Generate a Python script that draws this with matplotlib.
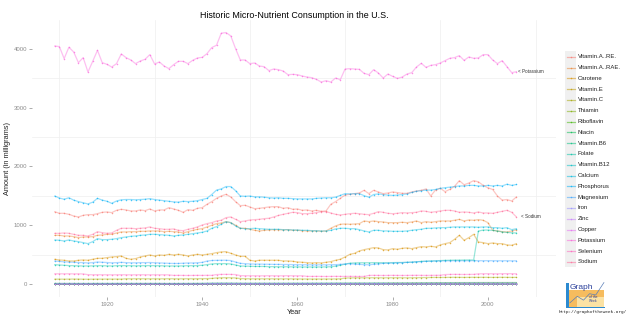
import numpy as np
import matplotlib
matplotlib.use("Agg")
from matplotlib import pyplot as plt
from matplotlib.lines import Line2D
from matplotlib.patches import Rectangle

plt.rcParams['font.family'] = ['Liberation Sans', 'DejaVu Sans']

years = list(range(1909, 2007))

labels = ["Vitamin.A..RE.", "Vitamin.A..RAE.", "Carotene", "Vitamin.E", "Vitamin.C",
          "Thiamin", "Riboflavin", "Niacin", "Vitamin.B6", "Folate", "Vitamin.B12",
          "Calcium", "Phosphorus", "Magnesium", "Iron", "Zinc", "Copper",
          "Potassium", "Selenium", "Sodium"]

# one row per decade, first row is 1909 alone
vit_a_re = [1234,
    1206, 1206, 1189, 1161, 1144, 1172, 1184, 1184, 1200, 1223,
    1229, 1218, 1257, 1274, 1263, 1246, 1246, 1263, 1251, 1280,
    1246, 1263, 1263, 1302, 1280, 1257, 1223, 1268, 1257, 1291,
    1302, 1359, 1404, 1460, 1500, 1528, 1483, 1404, 1336, 1342,
    1314, 1285, 1291, 1302, 1314, 1319, 1319, 1291, 1302, 1274,
    1280, 1257, 1263, 1246, 1257, 1240, 1246, 1359, 1404, 1460,
    1517, 1528, 1540, 1551, 1596, 1540, 1596, 1568, 1540, 1551,
    1568, 1557, 1545, 1545, 1568, 1585, 1596, 1619, 1500, 1602,
    1630, 1573, 1613, 1664, 1760, 1690, 1720, 1760, 1740, 1680,
    1640, 1610, 1500, 1430, 1440, 1415, 1485]

vit_a_rae = [833,
    833, 822, 822, 811, 794, 805, 805, 811, 833, 839,
    850, 850, 873, 890, 890, 895, 895, 901, 901, 907,
    907, 907, 895, 901, 895, 890, 873, 895, 918, 935,
    946, 975, 1003, 1031, 1042, 1065, 1048, 1003, 952, 952,
    935, 918, 907, 918, 924, 929, 929, 924, 929, 918,
    918, 912, 907, 907, 907, 901, 907, 952, 992, 1020,
    1025, 1020, 1025, 1031, 1076, 1065, 1076, 1065, 1059, 1048,
    1048, 1048, 1054, 1048, 1059, 1076, 1048, 1065, 1054, 1065,
    1076, 1076, 1076, 1088, 1104, 1076, 1093, 1088, 1099, 1088,
    1048, 918, 907, 895, 890, 907, 929]

carotene = [427,
    415, 410, 398, 398, 410, 415, 410, 427, 443, 443,
    455, 466, 472, 483, 443, 427, 438, 466, 483, 500,
    483, 500, 494, 511, 500, 511, 500, 483, 500, 511,
    500, 511, 522, 540, 551, 556, 528, 500, 477, 477,
    410, 398, 410, 410, 410, 410, 410, 398, 398, 393,
    381, 376, 370, 364, 370, 364, 376, 387, 410, 427,
    466, 511, 528, 568, 590, 607, 624, 619, 590, 585,
    607, 596, 613, 619, 607, 624, 641, 636, 647, 636,
    670, 692, 709, 766, 833, 749, 794, 850, 720, 709,
    692, 703, 692, 692, 670, 664, 692]

vit_e = [8.5,
    8.5, 8.6, 8.6, 8.7, 8.7, 8.6, 8.5, 8.6, 8.8, 8.9,
    9.0, 9.1, 9.3, 9.4, 9.3, 9.4, 9.5, 9.6, 9.7, 9.8,
    9.7, 9.6, 9.5, 9.4, 9.5, 9.6, 9.7, 9.8, 9.9, 10.1,
    10.3, 10.6, 10.9, 11.0, 11.2, 11.4, 11.3, 11.0, 10.8, 10.9,
    11.0, 11.2, 11.4, 11.5, 11.7, 11.9, 12.1, 12.3, 12.4, 12.6,
    12.8, 13.0, 13.1, 13.3, 13.5, 13.6, 13.8, 14.0, 14.2, 14.4,
    14.6, 14.8, 15.0, 15.1, 15.0, 15.2, 15.5, 15.7, 15.9, 16.1,
    16.3, 16.6, 16.8, 17.1, 17.4, 17.8, 18.2, 18.4, 18.6, 18.9,
    19.2, 19.5, 19.8, 20.1, 20.4, 20.6, 20.9, 21.1, 21.4, 21.6,
    21.9, 22.1, 22.3, 22.4, 22.6, 22.8, 23.0]

vit_c = [90,
    90, 89, 90, 91, 90, 89, 88, 89, 90, 90,
    91, 90, 91, 90, 96, 95, 96, 97, 96, 95,
    96, 95, 96, 97, 96, 95, 96, 97, 96, 97,
    98, 99, 102, 110, 113, 114, 113, 110, 100, 97,
    96, 95, 96, 95, 96, 95, 95, 94, 95, 94,
    93, 92, 92, 91, 92, 91, 92, 92, 93, 95,
    108, 110, 112, 113, 112, 113, 114, 113, 112, 113,
    113, 114, 113, 112, 113, 114, 116, 117, 118, 119,
    118, 119, 120, 121, 120, 119, 120, 121, 120, 121,
    120, 119, 120, 121, 120, 119, 120]

thiamin = [1.7,
    1.7, 1.7, 1.7, 1.7, 1.6, 1.6, 1.6, 1.6, 1.7, 1.7,
    1.6, 1.6, 1.6, 1.6, 1.6, 1.6, 1.6, 1.6, 1.6, 1.6,
    1.6, 1.5, 1.5, 1.5, 1.5, 1.5, 1.5, 1.5, 1.5, 1.6,
    1.6, 1.8, 2.1, 2.3, 2.4, 2.4, 2.2, 2.0, 1.9, 1.9,
    1.9, 1.9, 1.9, 1.9, 1.8, 1.8, 1.8, 1.8, 1.8, 1.8,
    1.8, 1.8, 1.8, 1.8, 1.8, 1.8, 1.8, 1.9, 1.9, 1.9,
    1.9, 2.0, 2.0, 2.0, 2.0, 2.0, 2.1, 2.1, 2.1, 2.2,
    2.2, 2.2, 2.2, 2.3, 2.3, 2.4, 2.4, 2.5, 2.5, 2.5,
    2.6, 2.6, 2.6, 2.6, 2.7, 2.7, 2.7, 2.7, 2.7, 2.7,
    2.7, 2.7, 2.7, 2.7, 2.7, 2.7, 2.7]

riboflavin = [1.8,
    1.8, 1.8, 1.8, 1.8, 1.8, 1.8, 1.7, 1.8, 1.8, 1.8,
    1.8, 1.8, 1.8, 1.8, 1.8, 1.8, 1.8, 1.8, 1.9, 1.9,
    1.9, 1.9, 1.8, 1.8, 1.8, 1.8, 1.9, 1.9, 1.9, 1.9,
    2.0, 2.1, 2.3, 2.4, 2.5, 2.5, 2.4, 2.3, 2.3, 2.3,
    2.3, 2.3, 2.3, 2.3, 2.3, 2.3, 2.3, 2.3, 2.3, 2.3,
    2.3, 2.3, 2.3, 2.3, 2.3, 2.3, 2.3, 2.3, 2.3, 2.3,
    2.3, 2.4, 2.4, 2.4, 2.4, 2.4, 2.4, 2.4, 2.4, 2.4,
    2.4, 2.4, 2.4, 2.4, 2.4, 2.5, 2.5, 2.5, 2.5, 2.5,
    2.5, 2.5, 2.5, 2.6, 2.6, 2.6, 2.6, 2.6, 2.6, 2.6,
    2.6, 2.6, 2.6, 2.6, 2.6, 2.6, 2.6]

niacin = [17.1,
    17.2, 17.0, 17.1, 16.9, 16.6, 16.5, 16.3, 16.6, 17.0, 16.8,
    16.9, 16.7, 17.2, 17.5, 17.3, 17.1, 17.0, 17.2, 17.3, 17.5,
    17.2, 17.0, 16.7, 16.5, 16.6, 16.6, 16.9, 17.0, 17.3, 17.8,
    18.4, 19.8, 21.6, 22.4, 22.8, 23.0, 22.5, 21.6, 20.9, 20.8,
    20.7, 20.8, 20.8, 20.9, 20.9, 21.0, 21.1, 21.1, 21.2, 21.4,
    21.6, 21.7, 21.9, 22.1, 22.3, 22.5, 22.8, 23.0, 23.4, 23.8,
    24.1, 24.4, 24.7, 25.0, 24.8, 24.6, 25.1, 25.4, 25.7, 26.0,
    26.2, 26.4, 26.6, 26.9, 27.3, 27.8, 28.3, 28.6, 28.9, 29.3,
    29.7, 30.1, 30.5, 30.8, 31.1, 31.3, 31.5, 31.7, 31.9, 32.0,
    32.1, 32.0, 31.9, 32.0, 32.1, 32.2, 32.1]

vit_b6 = [2.2,
    2.2, 2.2, 2.2, 2.1, 2.1, 2.1, 2.0, 2.1, 2.2, 2.1,
    2.1, 2.1, 2.1, 2.2, 2.1, 2.1, 2.1, 2.1, 2.1, 2.1,
    2.1, 2.1, 2.0, 2.0, 2.0, 2.0, 2.0, 2.0, 2.0, 2.1,
    2.1, 2.1, 2.2, 2.3, 2.3, 2.3, 2.3, 2.1, 2.1, 2.0,
    2.0, 2.0, 2.0, 2.0, 2.0, 2.0, 2.0, 2.0, 2.0, 2.0,
    2.0, 2.0, 2.0, 2.0, 2.0, 2.0, 2.0, 2.0, 2.0, 2.0,
    2.0, 2.1, 2.1, 2.1, 2.0, 2.0, 2.1, 2.1, 2.1, 2.1,
    2.1, 2.1, 2.1, 2.1, 2.1, 2.2, 2.2, 2.2, 2.2, 2.2,
    2.3, 2.3, 2.3, 2.3, 2.4, 2.4, 2.4, 2.4, 2.4, 2.4,
    2.4, 2.4, 2.4, 2.4, 2.4, 2.4, 2.4]

folate = [336,
    330, 325, 320, 318, 315, 313, 313, 315, 318, 318,
    315, 313, 318, 320, 318, 318, 315, 318, 318, 320,
    318, 318, 315, 313, 313, 313, 315, 318, 318, 320,
    325, 336, 347, 353, 353, 353, 347, 330, 313, 310,
    308, 305, 305, 305, 302, 302, 300, 300, 300, 298,
    298, 296, 296, 296, 296, 296, 298, 300, 310, 325,
    345, 360, 365, 368, 368, 368, 370, 370, 368, 368,
    370, 372, 372, 375, 378, 385, 390, 395, 398, 400,
    405, 408, 410, 412, 412, 414, 415, 414, 905, 922,
    922, 916, 907, 890, 882, 876, 873]

vit_b12 = [8.4,
    8.4, 8.3, 8.3, 8.2, 8.1, 8.1, 8.0, 8.1, 8.4, 8.2,
    8.3, 8.2, 8.4, 8.5, 8.4, 8.3, 8.3, 8.4, 8.5, 8.6,
    8.5, 8.4, 8.3, 8.2, 8.3, 8.4, 8.5, 8.6, 8.7, 8.8,
    8.9, 9.1, 9.3, 9.4, 9.6, 9.7, 9.5, 9.2, 9.0, 9.0,
    9.0, 9.1, 9.1, 9.2, 9.3, 9.4, 9.5, 9.5, 9.6, 9.6,
    9.6, 9.6, 9.6, 9.6, 9.5, 9.4, 9.4, 9.4, 9.4, 9.4,
    9.5, 9.5, 9.5, 9.4, 9.2, 9.0, 9.1, 9.0, 8.9, 8.9,
    8.8, 8.7, 8.6, 8.5, 8.4, 8.3, 8.3, 8.3, 8.2, 8.2,
    8.2, 8.3, 8.3, 8.4, 8.3, 8.4, 8.4, 8.5, 8.6, 8.6,
    8.6, 8.7, 8.7, 8.7, 8.8, 8.8, 8.8]

calcium = [754,
    749, 737, 754, 737, 726, 709, 692, 726, 777, 760,
    760, 766, 777, 794, 805, 816, 822, 833, 839, 850,
    850, 845, 839, 833, 822, 833, 839, 850, 861, 873,
    884, 907, 952, 980, 1020, 1065, 1048, 992, 952, 946,
    946, 952, 946, 941, 935, 935, 935, 929, 929, 924,
    924, 918, 918, 912, 912, 907, 907, 918, 941, 952,
    952, 946, 946, 929, 907, 890, 918, 918, 907, 907,
    901, 901, 901, 907, 918, 929, 935, 952, 952, 958,
    963, 963, 969, 975, 975, 975, 975, 975, 969, 975,
    975, 963, 963, 952, 963, 929, 946]

phosphorus = [1500,
    1465, 1445, 1470, 1430, 1405, 1385, 1365, 1395, 1460, 1430,
    1410, 1375, 1415, 1435, 1440, 1440, 1435, 1440, 1445, 1455,
    1440, 1430, 1420, 1410, 1400, 1395, 1410, 1405, 1410, 1420,
    1440, 1460, 1525, 1600, 1620, 1660, 1660, 1590, 1500, 1495,
    1500, 1485, 1485, 1480, 1470, 1465, 1470, 1460, 1460, 1455,
    1450, 1450, 1450, 1450, 1460, 1465, 1470, 1470, 1480, 1510,
    1540, 1535, 1540, 1540, 1505, 1480, 1525, 1535, 1525, 1515,
    1510, 1515, 1525, 1535, 1560, 1580, 1590, 1600, 1600, 1610,
    1630, 1640, 1650, 1660, 1670, 1670, 1680, 1680, 1670, 1670,
    1680, 1670, 1680, 1670, 1700, 1680, 1695]

magnesium = [398,
    390, 384, 379, 376, 372, 370, 365, 370, 380, 376,
    372, 366, 370, 374, 370, 367, 367, 370, 370, 372,
    368, 365, 362, 358, 356, 356, 360, 364, 364, 368,
    374, 396, 406, 408, 410, 410, 405, 380, 358, 352,
    348, 345, 345, 343, 342, 340, 340, 338, 338, 336,
    335, 334, 334, 333, 333, 333, 333, 335, 336, 340,
    348, 352, 345, 340, 336, 333, 342, 350, 358, 360,
    364, 368, 370, 374, 378, 385, 388, 392, 394, 398,
    400, 400, 401, 402, 402, 402, 402, 403, 403, 402,
    403, 402, 402, 401, 402, 400, 401]

iron = [15.2,
    15.2, 15.0, 15.1, 14.9, 14.6, 14.6, 14.3, 14.7, 15.2, 15.0,
    15.0, 14.8, 15.2, 15.4, 15.2, 15.1, 15.0, 15.2, 15.3, 15.4,
    15.1, 14.9, 14.6, 14.4, 14.5, 14.5, 14.7, 14.8, 15.1, 15.5,
    15.9, 16.6, 17.5, 17.9, 18.1, 18.2, 17.8, 17.2, 16.7, 16.6,
    16.5, 16.5, 16.4, 16.4, 16.3, 16.3, 16.3, 16.3, 16.3, 16.3,
    16.3, 16.3, 16.4, 16.4, 16.5, 16.6, 16.7, 16.8, 17.0, 17.2,
    17.6, 17.9, 18.1, 18.3, 18.1, 18.0, 18.4, 18.6, 18.8, 19.0,
    19.1, 19.2, 19.4, 19.6, 19.9, 20.3, 20.7, 21.0, 21.3, 21.6,
    21.9, 22.2, 22.5, 22.7, 22.9, 23.0, 23.1, 23.2, 23.3, 23.3,
    23.3, 23.2, 23.1, 23.2, 23.3, 23.4, 23.3]

zinc = [12.4,
    12.4, 12.3, 12.4, 12.2, 12.0, 12.0, 11.8, 12.1, 12.4, 12.2,
    12.2, 12.1, 12.4, 12.6, 12.5, 12.4, 12.3, 12.4, 12.5, 12.6,
    12.4, 12.3, 12.1, 12.0, 12.0, 12.1, 12.2, 12.3, 12.5, 12.7,
    12.9, 13.1, 13.4, 13.6, 13.8, 13.9, 13.6, 13.1, 12.8, 12.7,
    12.6, 12.6, 12.6, 12.5, 12.5, 12.5, 12.5, 12.5, 12.5, 12.5,
    12.5, 12.5, 12.5, 12.5, 12.5, 12.5, 12.6, 12.6, 12.7, 12.8,
    12.9, 13.0, 13.1, 13.2, 13.0, 12.9, 13.1, 13.2, 13.2, 13.2,
    13.1, 13.1, 13.1, 13.2, 13.3, 13.5, 13.7, 13.8, 13.9, 14.0,
    14.1, 14.2, 14.3, 14.4, 14.6, 14.6, 14.7, 14.7, 14.7, 14.8,
    14.8, 14.7, 14.6, 14.7, 14.8, 14.8, 14.8]

copper = [1.7,
    1.7, 1.7, 1.7, 1.7, 1.6, 1.6, 1.6, 1.6, 1.7, 1.7,
    1.7, 1.6, 1.7, 1.7, 1.7, 1.7, 1.7, 1.7, 1.7, 1.7,
    1.7, 1.6, 1.6, 1.6, 1.6, 1.6, 1.6, 1.6, 1.7, 1.7,
    1.7, 1.7, 1.8, 1.8, 1.8, 1.8, 1.8, 1.7, 1.7, 1.6,
    1.6, 1.6, 1.6, 1.6, 1.6, 1.6, 1.6, 1.6, 1.6, 1.6,
    1.6, 1.6, 1.6, 1.6, 1.6, 1.6, 1.6, 1.6, 1.6, 1.6,
    1.6, 1.6, 1.6, 1.6, 1.5, 1.5, 1.6, 1.6, 1.6, 1.6,
    1.6, 1.6, 1.6, 1.6, 1.6, 1.6, 1.7, 1.7, 1.7, 1.7,
    1.7, 1.7, 1.8, 1.8, 1.8, 1.8, 1.8, 1.8, 1.8, 1.8,
    1.8, 1.8, 1.8, 1.8, 1.8, 1.8, 1.8]

potassium = [4044,
    4033, 3829, 4022, 3942, 3761, 3846, 3602, 3783, 3970, 3761,
    3732, 3687, 3744, 3908, 3846, 3806, 3744, 3789, 3818, 3897,
    3738, 3772, 3704, 3659, 3727, 3783, 3783, 3744, 3800, 3840,
    3851, 3914, 4016, 4056, 4260, 4271, 4214, 3999, 3806, 3806,
    3744, 3755, 3704, 3693, 3625, 3653, 3642, 3619, 3557, 3562,
    3557, 3534, 3517, 3506, 3477, 3432, 3455, 3432, 3500, 3472,
    3653, 3659, 3653, 3647, 3579, 3557, 3642, 3585, 3500, 3568,
    3528, 3494, 3517, 3568, 3591, 3687, 3749, 3681, 3715, 3727,
    3755, 3795, 3835, 3846, 3880, 3800, 3857, 3835, 3840, 3897,
    3897, 3806, 3744, 3795, 3693, 3591, 3608]

selenium = [181,
    181, 180, 181, 179, 180, 178, 166, 164, 165, 164,
    164, 163, 164, 165, 164, 163, 164, 165, 164, 163,
    164, 163, 164, 162, 153, 154, 153, 152, 153, 154,
    153, 155, 154, 168, 170, 171, 170, 168, 150, 148,
    147, 147, 146, 147, 148, 147, 146, 147, 148, 147,
    146, 147, 137, 136, 137, 136, 135, 136, 137, 136,
    136, 137, 136, 135, 136, 153, 154, 153, 152, 153,
    154, 153, 152, 153, 154, 155, 154, 153, 154, 155,
    156, 168, 170, 171, 170, 169, 170, 171, 180, 181,
    182, 181, 180, 182, 183, 182, 181]

sodium = [867,
    867, 873, 867, 850, 833, 833, 822, 850, 895, 878,
    867, 873, 918, 952, 952, 952, 946, 952, 958, 975,
    952, 946, 935, 935, 941, 918, 912, 935, 952, 975,
    1008, 1031, 1048, 1076, 1088, 1133, 1144, 1104, 1065, 1076,
    1093, 1099, 1104, 1116, 1122, 1144, 1170, 1189, 1206, 1223,
    1218, 1200, 1200, 1206, 1218, 1234, 1234, 1212, 1189, 1178,
    1189, 1200, 1206, 1200, 1189, 1184, 1206, 1234, 1223, 1206,
    1200, 1206, 1218, 1212, 1218, 1223, 1246, 1240, 1223, 1234,
    1246, 1257, 1257, 1246, 1223, 1229, 1223, 1212, 1229, 1212,
    1212, 1206, 1223, 1240, 1257, 1223, 1144]

series = [vit_a_re, vit_a_rae, carotene, vit_e, vit_c, thiamin, riboflavin, niacin,
          vit_b6, folate, vit_b12, calcium, phosphorus, magnesium, iron, zinc, copper,
          potassium, selenium, sodium]

# series that get a text tag at the right end
end_tags = {"Potassium": "< Potassium", "Sodium": "< Sodium"}


def hcl_colour(h, c=100.0, l=65.0):
    # ggplot's default hue palette, polar LUV -> sRGB
    h = np.deg2rad(h)
    u, v = c * np.cos(h), c * np.sin(h)
    xn, yn, zn = 95.047, 100.0, 108.883
    un = 4 * xn / (xn + 15 * yn + 3 * zn)
    vn = 9 * yn / (xn + 15 * yn + 3 * zn)
    y = yn * ((l + 16) / 116) ** 3
    up = u / (13 * l) + un
    vp = v / (13 * l) + vn
    x = y * 9 * up / (4 * vp)
    z = y * (12 - 3 * up - 20 * vp) / (4 * vp)
    x, y, z = x / 100, y / 100, z / 100
    rgb = np.array([3.240479 * x - 1.537150 * y - 0.498535 * z,
                    -0.969256 * x + 1.875992 * y + 0.041556 * z,
                    0.055648 * x - 0.204043 * y + 1.057311 * z])
    rgb = np.where(rgb <= 0.0031308, 12.92 * rgb, 1.055 * np.abs(rgb) ** (1 / 2.4) - 0.055)
    return tuple(np.clip(rgb, 0, 1))


def fig_x(px):
    return px / 640.0


def fig_y(py):
    return 1 - py / 321.0


def build_chart():
    n = len(labels)
    colours = [hcl_colour(15 + 360.0 * i / n) for i in range(n)]

    fig = plt.figure(figsize=(6.4, 3.21), dpi=100)
    ax = fig.add_axes([fig_x(32), fig_y(297), fig_x(556 - 32), (297 - 20) / 321.0])

    for vals, col in zip(series, colours):
        ax.plot(years, vals, color=col, lw=0.9, alpha=0.4, solid_capstyle='round')
    for vals, col in zip(series, colours):
        ax.plot(years, vals, ls='none', marker='o', ms=1.1, mew=0, color=col, alpha=0.7)

    for name, vals in zip(labels, series):
        if name in end_tags:
            ax.text(2009, vals[-1], end_tags[name], fontsize=3.3, color='#333333',
                    ha='center', va='center')

    ax.set_xlim(1904.25, 2014.3)
    ax.set_ylim(-213, 4484)
    ax.set_xticks([1920, 1940, 1960, 1980, 2000])
    ax.set_xticks([1910, 1930, 1950, 1970, 1990, 2010], minor=True)
    ax.set_yticks([0, 1000, 2000, 3000, 4000])
    ax.set_yticks([500, 1500, 2500, 3500], minor=True)
    ax.grid(which='minor', color='#EFEFEF', lw=0.5)
    ax.grid(which='major', visible=False)
    ax.set_axisbelow(True)
    for s in ax.spines.values():
        s.set_visible(False)
    ax.tick_params(which='major', length=2.2, width=0.5, color='#8C8C8C',
                   labelsize=4.3, labelcolor='#8C8C8C', pad=1.2)
    ax.tick_params(which='minor', length=0)

    fig.text(fig_x(294), fig_y(15), "Historic Micro-Nutrient Consumption in the U.S.",
             ha='center', va='center', fontsize=6.4, color='black')
    fig.text(fig_x(294), fig_y(313), "Year", ha='center', va='center',
             fontsize=5.3, color='#222222')
    fig.text(fig_x(8), fig_y(158), "Amount (in milligrams)", ha='center', va='center',
             rotation=90, fontsize=5.3, color='#222222')

    # legend, drawn by hand to match the key column
    row0, step = 56.7, 10.8
    fig.patches.append(Rectangle((fig_x(565), fig_y(row0 + step * (n - 1) + 5.4)),
                                 fig_x(11), step * n / 321.0, transform=fig.transFigure,
                                 facecolor='#F0F0F0', edgecolor='none'))
    for i, (name, col) in enumerate(zip(labels, colours)):
        yc = fig_y(row0 + step * i)
        fig.lines.append(Line2D([fig_x(566.5), fig_x(574.5)], [yc, yc], color=col,
                                lw=0.9, alpha=0.5, transform=fig.transFigure))
        fig.lines.append(Line2D([fig_x(570.5)], [yc], marker='o', ms=1.1, mew=0,
                                color=col, alpha=0.7, transform=fig.transFigure))
        fig.text(fig_x(578), yc, name, ha='left', va='center', fontsize=4.3, color='#222222')

    # small site badge in the corner
    logo = fig.add_axes([fig_x(565), fig_y(308), fig_x(41), 26 / 321.0])
    logo.set_xlim(0, 1)
    logo.set_ylim(0, 1)
    logo.axis('off')
    logo.add_patch(Rectangle((0.05, 0.02), 0.9, 0.68, facecolor='#F6BC5E', edgecolor='none'))
    logo.add_patch(Rectangle((0.3, 0.02), 0.65, 0.4, facecolor='#FBE2A4', edgecolor='none'))
    logo.add_patch(Rectangle((0.03, 0.0), 0.06, 0.95, facecolor='#2C8AD0', edgecolor='none'))
    logo.add_patch(Rectangle((0.03, 0.0), 0.94, 0.05, facecolor='#2C8AD0', edgecolor='none'))
    logo.plot([0.12, 0.3, 0.45, 0.6, 0.75, 0.95], [0.2, 0.45, 0.3, 0.55, 0.5, 0.98],
              color='#5A7FB8', lw=0.5)
    logo.text(0.12, 0.78, "Graph", fontsize=6, color='#2A3F9A', ha='left', va='center')
    logo.text(0.68, 0.33, "of the\nWeek", fontsize=2.4, color='#2A3F9A', ha='center',
              va='center', linespacing=1.0)
    fig.text(fig_x(593), fig_y(312), "http://graphoftheweek.org/", ha='center', va='center',
             fontsize=3.2, color='#222222', family='DejaVu Sans Mono')

    fig.savefig('out.png', dpi=100)


if __name__ == "__main__":
    assert all(len(v) == len(years) for v in series)
    build_chart()
